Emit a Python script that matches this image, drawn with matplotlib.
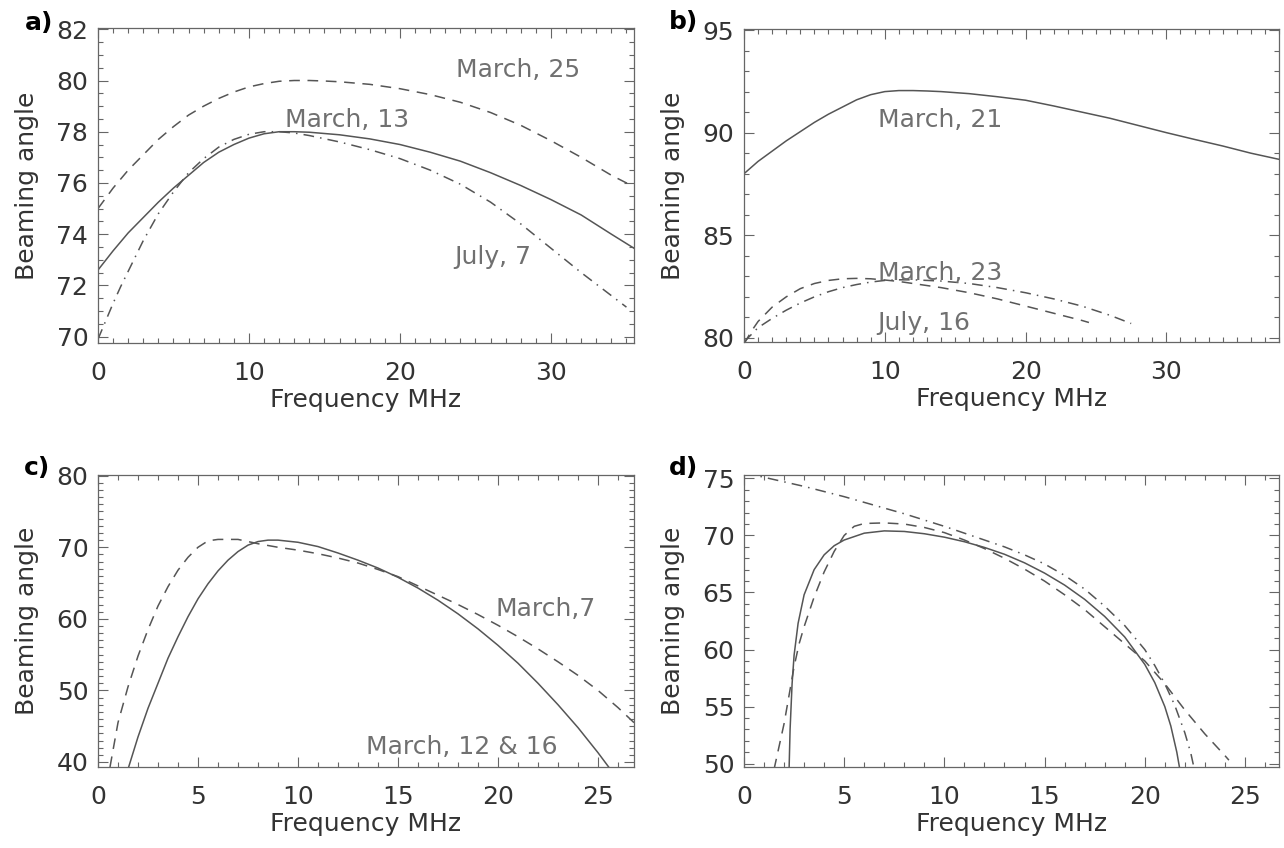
import matplotlib.pyplot as plt
from matplotlib.ticker import MultipleLocator

# ---- panel a) ----
a_mar13_f = [0, 1, 2, 3, 4, 5, 6, 7, 8, 9, 10, 11, 12, 13, 14, 16, 18, 20, 22, 24, 26, 28, 30, 32, 34, 35.5]
a_mar13_b = [72.6, 73.35, 74.05, 74.65, 75.25, 75.8, 76.3, 76.8, 77.2, 77.5, 77.75, 77.92, 78.0, 78.0, 77.98,
             77.88, 77.72, 77.5, 77.2, 76.85, 76.4, 75.9, 75.35, 74.75, 74.0, 73.45]
a_mar25_f = [0, 1, 2, 3, 4, 5, 6, 7, 8, 9, 10, 11, 12, 13, 14, 15, 16, 18, 20, 22, 24, 26, 28, 30, 32, 34, 35, 35.5]
a_mar25_b = [75.0, 75.8, 76.5, 77.1, 77.7, 78.2, 78.65, 79.0, 79.3, 79.55, 79.75, 79.88, 79.97, 80.0, 80.0,
             79.98, 79.95, 79.85, 79.68, 79.45, 79.15, 78.75, 78.25, 77.65, 77.0, 76.3, 76.0, 76.0]
a_jul7_f = [0, 0.5, 1, 1.5, 2, 3, 4, 5, 6, 7, 8, 9, 10, 11, 12, 13, 14, 16, 18, 20, 22, 24, 26, 28, 30, 32, 34, 35]
a_jul7_b = [69.9, 70.6, 71.3, 71.95, 72.55, 73.75, 74.8, 75.65, 76.4, 76.95, 77.4, 77.7, 77.9, 78.0, 78.0,
            77.95, 77.85, 77.6, 77.3, 76.95, 76.5, 75.95, 75.25, 74.4, 73.45, 72.5, 71.6, 71.15]

# ---- panel b) ----
b_mar21_f = [0, 1, 2, 3, 4, 5, 6, 7, 8, 9, 10, 11, 12, 13, 14, 16, 18, 20, 22, 24, 26, 28, 30, 32, 34, 36, 38]
b_mar21_b = [88.0, 88.6, 89.1, 89.6, 90.05, 90.5, 90.9, 91.25, 91.6, 91.85, 92.0, 92.05, 92.05, 92.03, 92.0,
             91.9, 91.75, 91.58, 91.3, 91.0, 90.7, 90.35, 90.0, 89.67, 89.35, 89.0, 88.7]
b_mar23_f = [0, 0.5, 1, 2, 3, 4, 5, 6, 7, 8, 9, 10, 11, 12, 14, 16, 18, 20, 22, 24, 24.5]
b_mar23_b = [79.7, 80.3, 80.8, 81.5, 82.0, 82.4, 82.65, 82.8, 82.88, 82.9, 82.88, 82.82, 82.75, 82.65,
             82.45, 82.2, 81.9, 81.55, 81.2, 80.85, 80.75]
b_jul16_f = [0, 1, 2, 3, 4, 5, 6, 7, 8, 9, 10, 11, 12, 13, 14, 16, 18, 20, 22, 24, 26, 27.5]
b_jul16_b = [79.8, 80.5, 80.95, 81.35, 81.7, 82.0, 82.25, 82.45, 82.6, 82.72, 82.8, 82.83, 82.83, 82.8,
             82.77, 82.65, 82.45, 82.2, 81.9, 81.55, 81.1, 80.7]

# ---- panel c) ----
c_solid_f = [1.5, 2, 2.5, 3, 3.5, 4, 4.5, 5, 5.5, 6, 6.5, 7, 7.5, 8, 8.5, 9, 10, 11, 12, 13, 14, 15, 16,
             17, 18, 19, 20, 21, 22, 23, 24, 25, 25.8]
c_solid_b = [39.0, 43.5, 47.5, 51.0, 54.5, 57.5, 60.3, 62.8, 64.9, 66.7, 68.2, 69.4, 70.3, 70.8, 71.0, 71.0,
             70.7, 70.1, 69.2, 68.2, 67.1, 65.8, 64.3, 62.6, 60.7, 58.6, 56.3, 53.8, 51.0, 48.0, 44.8, 41.3, 38.3]
c_dash_f = [0.6, 1, 1.5, 2, 2.5, 3, 3.5, 4, 4.5, 5, 5.5, 6, 7, 8, 9, 10, 11, 12, 13, 14, 15, 16, 17, 18,
            19, 20, 21, 22, 23, 24, 25, 26, 26.8]
c_dash_b = [39.3, 45.5, 50.5, 54.8, 58.5, 61.8, 64.5, 66.8, 68.6, 70.0, 70.9, 71.1, 71.1, 70.5, 70.0, 69.6,
            69.1, 68.5, 67.8, 66.9, 65.9, 64.6, 63.3, 62.0, 60.6, 59.1, 57.5, 55.8, 54.0, 52.1, 50.0, 47.6, 45.5]

# ---- panel d) ----
d_solid_f = [2.25, 2.3, 2.4, 2.5, 2.7, 3, 3.5, 4, 4.5, 5, 6, 7, 8, 9, 10, 11, 12, 13, 14, 15, 16, 17, 18,
             19, 20, 20.5, 21, 21.3, 21.6, 21.8]
d_solid_b = [49.5, 53.0, 57.0, 59.5, 62.3, 64.8, 67.0, 68.3, 69.1, 69.6, 70.2, 70.4, 70.35, 70.15, 69.85,
             69.45, 68.95, 68.35, 67.6, 66.7, 65.65, 64.4, 62.9, 61.1, 58.7, 57.1, 55.0, 53.3, 51.0, 49.0]
d_dash_f = [1.5, 1.75, 2, 2.25, 2.5, 2.75, 3, 3.5, 4, 4.5, 5, 5.5, 6, 7, 8, 9, 10, 11, 12, 13, 14, 15, 16,
            17, 18, 19, 20, 21, 22, 23, 24, 24.2]
d_dash_b = [49.5, 51.5, 53.5, 56.0, 58.5, 60.5, 62.0, 64.6, 66.8, 68.6, 70.0, 70.8, 71.05, 71.1, 71.0, 70.7,
            70.25, 69.6, 68.85, 68.0, 67.05, 66.0, 64.8, 63.5, 62.0, 60.5, 59.0, 57.0, 54.7, 52.6, 50.7, 50.3]
d_dd_f = [0, 1, 2, 3, 4, 5, 6, 7, 8, 9, 10, 11, 12, 13, 14, 15, 16, 17, 18, 19, 20, 20.5, 21, 21.5, 22,
          22.3, 22.6]
d_dd_b = [75.5, 75.1, 74.7, 74.3, 73.85, 73.4, 72.9, 72.4, 71.9, 71.35, 70.8, 70.2, 69.6, 69.0, 68.3, 67.5,
          66.5, 65.3, 63.8, 62.1, 60.0, 58.6, 57.0, 55.1, 52.7, 50.9, 48.5]

plt.rcParams['font.family'] = ['DejaVu Sans']

line_col = '#555555'
text_col = '#707070'
fs = 18
solid = '-'
dashed = (0, (7, 5))
dashdot = (0, (7, 4, 1, 4))

fig = plt.figure(figsize=(12.84, 8.48), dpi=100)
W, H = 1284.0, 848.0


def make_axes(left, top, right, bottom, xlim, ylim, xmaj, xmin, ymaj, ymin):
    # box given in pixels of the final image
    ax = fig.add_axes([left / W, 1 - bottom / H, (right - left) / W, (bottom - top) / H])
    ax.set_xlim(*xlim)
    ax.set_ylim(*ylim)
    ax.xaxis.set_major_locator(MultipleLocator(xmaj))
    ax.xaxis.set_minor_locator(MultipleLocator(xmin))
    ax.yaxis.set_major_locator(MultipleLocator(ymaj))
    ax.yaxis.set_minor_locator(MultipleLocator(ymin))
    ax.tick_params(which='both', direction='in', top=True, right=True, color='#666666', width=0.8)
    ax.tick_params(which='major', length=7, labelsize=fs, labelcolor='#333333')
    ax.tick_params(which='minor', length=3.5)
    ax.tick_params(axis='x', pad=13)
    ax.tick_params(axis='y', pad=7)
    for s in ax.spines.values():
        s.set_color('#666666')
        s.set_linewidth(0.9)
    ax.set_xlabel('Frequency MHz', fontsize=fs, color='#333333')
    ax.set_ylabel('Beaming angle', fontsize=fs, color='#333333')
    ax.xaxis.set_label_coords(0.5, -45 / (bottom - top))
    ax.yaxis.set_label_coords(-59 / (right - left), 0.5)
    return ax


ax_a = make_axes(98, 28, 634, 343, (0, 35.5), (69.75, 82.05), 10, 1, 2, 0.5)
ax_b = make_axes(744, 29, 1279, 342, (0, 38), (79.8, 95.05), 10, 1, 5, 1)
ax_c = make_axes(98, 475, 634, 767, (0, 26.8), (39.3, 80.1), 5, 1, 10, 1)
ax_d = make_axes(744, 475, 1279, 767, (0, 26.7), (49.7, 75.3), 5, 1, 5, 1)

kw = dict(color=line_col, lw=1.1)
ax_a.plot(a_mar13_f, a_mar13_b, linestyle=solid, **kw)
ax_a.plot(a_mar25_f, a_mar25_b, linestyle=dashed, **kw)
ax_a.plot(a_jul7_f, a_jul7_b, linestyle=dashdot, **kw)
ax_a.text(23.7, 80.4, 'March, 25', fontsize=fs, color=text_col, va='center')
ax_a.text(12.4, 78.45, 'March, 13', fontsize=fs, color=text_col, va='center')
ax_a.text(23.6, 73.1, 'July, 7', fontsize=fs, color=text_col, va='center')

ax_b.plot(b_mar21_f, b_mar21_b, linestyle=solid, **kw)
ax_b.plot(b_mar23_f, b_mar23_b, linestyle=dashed, **kw)
ax_b.plot(b_jul16_f, b_jul16_b, linestyle=dashdot, **kw)
ax_b.text(9.5, 90.6, 'March, 21', fontsize=fs, color=text_col, va='center')
ax_b.text(9.5, 83.15, 'March, 23', fontsize=fs, color=text_col, va='center')
ax_b.text(9.5, 80.75, 'July, 16', fontsize=fs, color=text_col, va='center')

ax_c.plot(c_solid_f, c_solid_b, linestyle=solid, **kw)
ax_c.plot(c_dash_f, c_dash_b, linestyle=dashed, **kw)
ax_c.text(19.9, 61.4, 'March,7', fontsize=fs, color=text_col, va='center')
ax_c.text(13.4, 42.1, 'March, 12 & 16', fontsize=fs, color=text_col, va='center')

ax_d.plot(d_solid_f, d_solid_b, linestyle=solid, **kw)
ax_d.plot(d_dash_f, d_dash_b, linestyle=dashed, **kw)
ax_d.plot(d_dd_f, d_dd_b, linestyle=dashdot, **kw)

# panel letters
for lab, px, py in [('a)', 25, 23), ('b)', 669, 22), ('c)', 24, 468), ('d)', 669, 468)]:
    fig.text(px / W, 1 - py / H, lab, fontsize=18, fontweight='bold', va='center', ha='left')

fig.savefig('out.png', dpi=100)
